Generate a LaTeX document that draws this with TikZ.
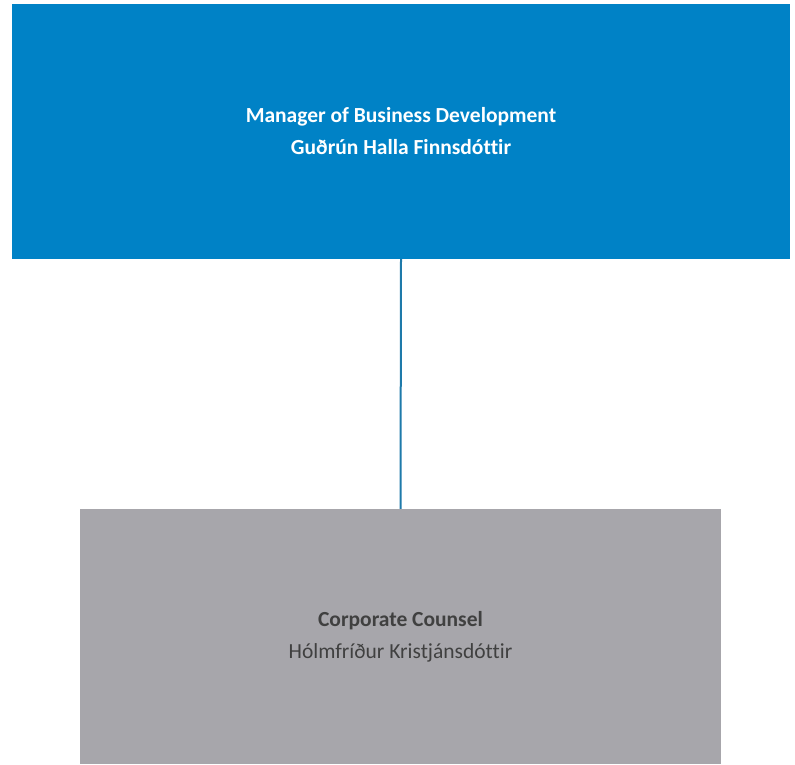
\documentclass[tikz,border=0pt]{standalone}
\usepackage{fontspec}
\setmainfont[Ligatures=NoCommon]{Carlito}
\usepackage{tikz}

\definecolor{headblue}{RGB}{0,130,198}
\definecolor{boxgray}{RGB}{167,166,171}
\definecolor{textgray}{RGB}{64,64,64}
\definecolor{linkblue}{RGB}{30,122,170}

\tikzset{
    unitbox/.style={inner sep=0pt, align=center,
        font=\fontsize{21.5pt}{32pt}\selectfont},
    link/.style={draw=linkblue, line width=2pt}
}

\begin{document}
\begin{tikzpicture}[x=1pt,y=1pt]
    \useasboundingbox (0,0) rectangle (795,764);

    \node [unitbox, fill=headblue, text=white, minimum width=778pt, minimum height=255pt] (manager) at (401,632.5)
        {\bfseries Manager of Business Development\\\bfseries Guðrún Halla Finnsdóttir};

    \node [unitbox, fill=boxgray, text=textgray, minimum width=641pt, minimum height=255pt] (counsel) at (400.5,127.5)
        {\bfseries Corporate Counsel\\Hólmfríður Kristjánsdóttir};

    \draw [link] (manager.south) -- (counsel.north);
\end{tikzpicture}
\end{document}
